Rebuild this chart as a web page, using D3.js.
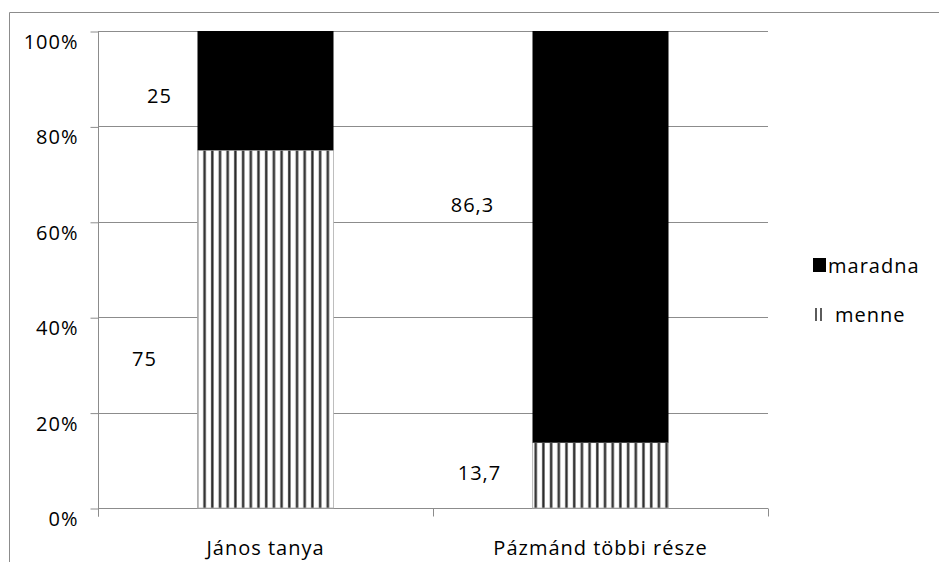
<!DOCTYPE html>
<html>

<head>
  <meta charset="utf-8">
  <script src="https://d3js.org/d3.v7.min.js"></script>
  <style>
    body {
      margin: 0;
      background: #fff;
    }

    svg text {
      font-family: "Open Sans", sans-serif;
      font-size: 20px;
      letter-spacing: 1px;
      fill: #000;
    }
  </style>
</head>

<body>
  <div id="chart"></div>
  <script>
    // data
    var categories = ["János tanya", "Pázmánd többi része"];
    var menne = [75, 13.7];
    var maradna = [25, 86.3];
    var yTicks = [0, 20, 40, 60, 80, 100];
    var seriesNames = ["menne", "maradna"];

    var width = 939, height = 562;
    var margin = { left: 98, right: 171, top: 31, bottom: 54 };
    var gray = "#8c8c8c";

    var svg = d3.select("#chart").append("svg")
      .attr("width", width)
      .attr("height", height);

    var defs = svg.append("defs");
    var pat = defs.append("pattern")
      .attr("id", "stripes")
      .attr("patternUnits", "userSpaceOnUse")
      .attr("x", 198.5)
      .attr("y", 0)
      .attr("width", 7.7)
      .attr("height", 10);
    pat.append("rect").attr("width", 7.7).attr("height", 10).attr("fill", "#fff");
    pat.append("rect").attr("x", 4.6).attr("width", 3).attr("height", 10).attr("fill", "#aaa");
    pat.append("rect").attr("x", 5.1).attr("width", 2).attr("height", 10).attr("fill", "#2a2a2a");

    // outer frame
    svg.append("path")
      .attr("d", "M9.5," + height + "V12.5H" + width)
      .attr("fill", "none")
      .attr("stroke", gray)
      .attr("stroke-width", 1);

    var x = d3.scaleBand()
      .domain(categories)
      .range([margin.left, width - margin.right])
      .paddingInner(0.594)
      .paddingOuter(0.297);

    var y = d3.scaleLinear()
      .domain([0, 100])
      .range([height - margin.bottom, margin.top]);

    // gridlines
    svg.append("g").selectAll("line")
      .data(yTicks.filter(d => d > 0))
      .join("line")
      .attr("x1", margin.left)
      .attr("x2", width - margin.right)
      .attr("y1", d => Math.round(y(d)) + 0.5)
      .attr("y2", d => Math.round(y(d)) + 0.5)
      .attr("stroke", gray);

    // y axis
    var yAxis = svg.append("g")
      .attr("transform", "translate(" + (margin.left + 0.5) + ",0.5)")
      .call(d3.axisLeft(y).tickValues(yTicks).tickSize(8).tickPadding(12).tickFormat(d => d + "%"));
    yAxis.select(".domain").attr("stroke", gray).attr("d", "M0," + y(100) + "V" + (y(0) + 8));
    yAxis.selectAll(".tick line").attr("stroke", gray);
    yAxis.selectAll(".tick text").attr("dy", "0.85em");

    // x axis with boundary ticks
    var boundaries = d3.range(categories.length + 1).map(i => margin.left + i * x.step());
    var x0 = Math.round(y(0)) + 0.5;
    svg.append("line")
      .attr("x1", margin.left).attr("x2", width - margin.right)
      .attr("y1", x0).attr("y2", x0)
      .attr("stroke", gray);
    svg.append("g").selectAll("line")
      .data(boundaries)
      .join("line")
      .attr("x1", d => Math.round(d) + 0.5)
      .attr("x2", d => Math.round(d) + 0.5)
      .attr("y1", x0).attr("y2", x0 + 8)
      .attr("stroke", gray);
    svg.append("g").selectAll("text")
      .data(categories)
      .join("text")
      .attr("x", d => x(d) + x.bandwidth() / 2)
      .attr("y", height - 7)
      .attr("text-anchor", "middle")
      .text(d => d);

    // stacked bars
    var rows = categories.map((c, i) => ({ cat: c, menne: menne[i], maradna: maradna[i] }));
    var stack = d3.stack().keys(seriesNames)(rows);
    var fills = { menne: "url(#stripes)", maradna: "#000" };

    svg.append("g").selectAll("g")
      .data(stack)
      .join("g")
      .selectAll("rect")
      .data(s => s.map(d => ({ key: s.key, d: d })))
      .join("rect")
      .attr("x", o => x(o.d.data.cat))
      .attr("width", x.bandwidth())
      .attr("y", o => y(o.d[1]))
      .attr("height", o => y(o.d[0]) - y(o.d[1]))
      .attr("fill", o => fills[o.key])
      .attr("stroke", o => o.key === "menne" ? "#b0b0b0" : "none")
      .attr("stroke-width", 0.8);

    // data labels (manually offset, as in the source)
    var labelDx = { menne: [-53, -53], maradna: [-38, -60] };
    var labelDy = { menne: [30, -2], maradna: [5, -32] };
    svg.append("g").selectAll("g")
      .data(stack)
      .join("g")
      .selectAll("text")
      .data(s => s.map((d, i) => ({ key: s.key, d: d, i: i })))
      .join("text")
      .attr("x", o => x(o.d.data.cat) + labelDx[o.key][o.i])
      .attr("y", o => y((o.d[0] + o.d[1]) / 2) + labelDy[o.key][o.i])
      .attr("dy", "0.35em")
      .attr("text-anchor", "middle")
      .text(o => String(o.d.data[o.key]).replace(".", ","));

    // legend (reverse order)
    var legend = svg.append("g").attr("transform", "translate(813,258)");
    var items = seriesNames.slice().reverse();
    var li = legend.selectAll("g")
      .data(items)
      .join("g")
      .attr("transform", (d, i) => "translate(0," + i * 49 + ")");
    li.filter(d => d === "maradna").append("rect")
      .attr("width", 13)
      .attr("height", 14)
      .attr("fill", "#000");
    li.filter(d => d === "menne").selectAll("line")
      .data([3, 8])
      .join("line")
      .attr("x1", d => d).attr("x2", d => d)
      .attr("y1", 1).attr("y2", 14)
      .attr("stroke", "#333")
      .attr("stroke-width", 1.6);
    li.append("text")
      .attr("x", d => d === "maradna" ? 15 : 22)
      .attr("y", 15)
      .text(d => d);
  </script>
</body>

</html>
